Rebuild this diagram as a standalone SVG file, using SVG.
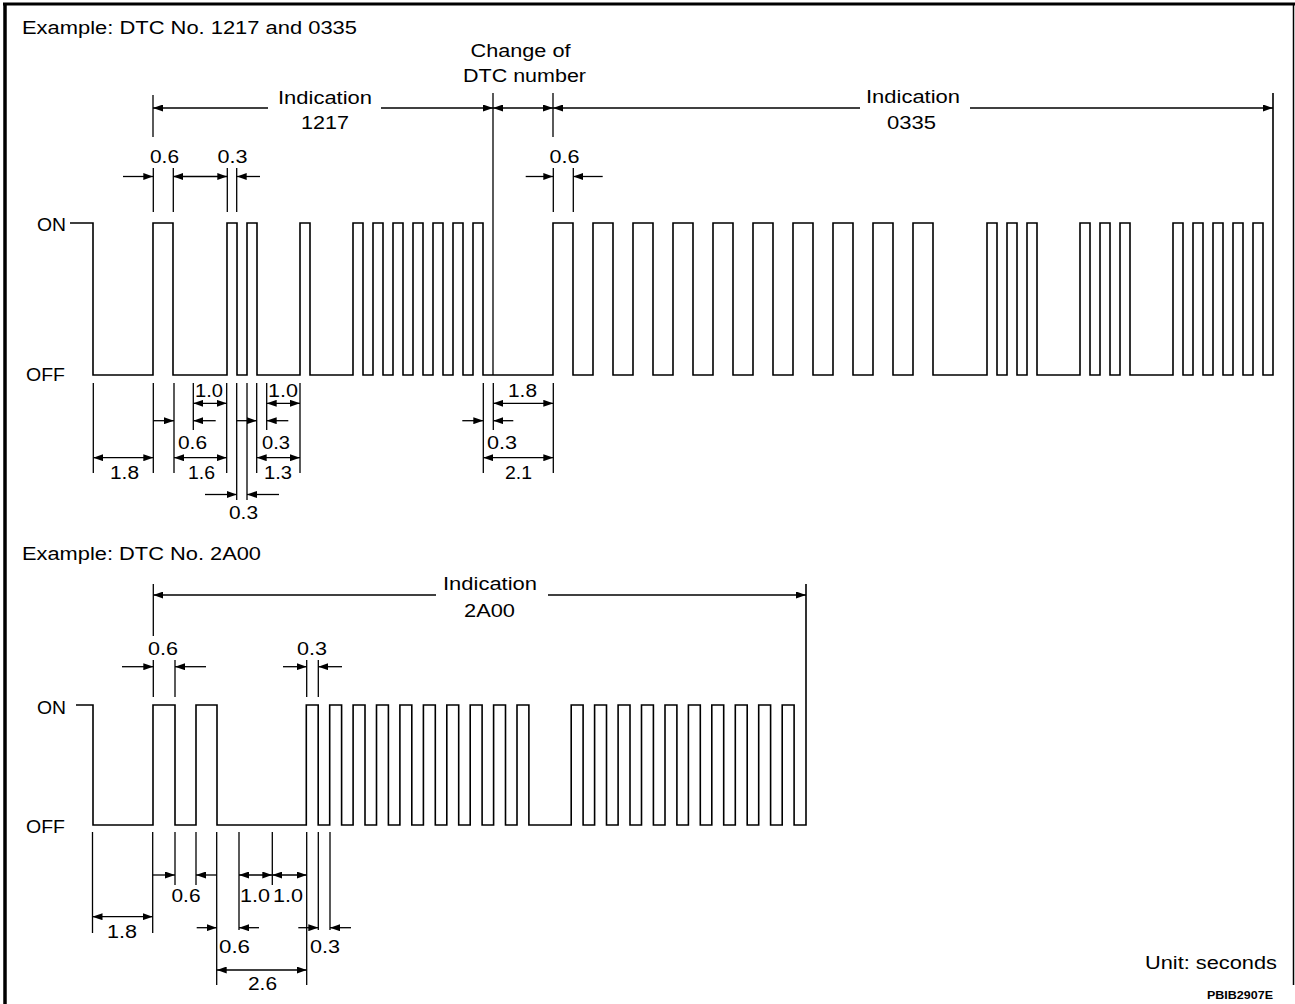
<svg xmlns="http://www.w3.org/2000/svg" width="1295" height="1004" viewBox="0 0 1295 1004">
<defs>
<marker id="ah" viewBox="0 0 10 7" refX="10" refY="3.5" markerWidth="10" markerHeight="7" markerUnits="userSpaceOnUse" orient="auto-start-reverse"><path d="M0,0L10,3.5L0,7z" fill="#000"/></marker>
<style>
text{font-family:"Liberation Sans",Arial,sans-serif;font-size:17.5px;fill:#000}
.w{fill:none;stroke:#000;stroke-width:1.6}
.t{fill:none;stroke:#000;stroke-width:1.3}
.e{fill:none;stroke:#000;stroke-width:1.3;marker-end:url(#ah)}
.b{fill:none;stroke:#000;stroke-width:1.3;marker-start:url(#ah);marker-end:url(#ah)}
.s{fill:none;stroke:#000;stroke-width:1.3;marker-start:url(#ah)}
.fr{fill:none;stroke:#000}
</style>
</defs>
<rect width="1295" height="1004" fill="#fff"/>
<g id="frame">
<line class="fr" x1="3" y1="4" x2="1295" y2="4" stroke-width="3"/>
<line class="fr" x1="5" y1="3" x2="5" y2="1004" stroke-width="3.5"/>
<line class="fr" x1="1293.5" y1="3" x2="1293.5" y2="985" stroke-width="1.5"/>
</g>
<g id="top-waveform">
<path class="w" d="M70,223 H93 V375 H153 V223 H173 V375 H227 V223 H237 V375 H247 V223 H257 V375 H300 V223 H310 V375 H353 V223 H363 V375 H373 V223 H383 V375 H393 V223 H403 V375 H413 V223 H423 V375 H433 V223 H443 V375 H453 V223 H463 V375 H473 V223 H483 V375 H553 V223 H573 V375 H593 V223 H613 V375 H633 V223 H653 V375 H673 V223 H693 V375 H713 V223 H733 V375 H753 V223 H773 V375 H793 V223 H813 V375 H833 V223 H853 V375 H873 V223 H893 V375 H913 V223 H933 V375 H987 V223 H997 V375 H1007 V223 H1017 V375 H1027 V223 H1037 V375 H1080 V223 H1090 V375 H1100 V223 H1110 V375 H1120 V223 H1130 V375 H1173 V223 H1183 V375 H1193 V223 H1203 V375 H1213 V223 H1223 V375 H1233 V223 H1243 V375 H1253 V223 H1263 V375 H1273 V93"/>
</g>
<g id="bottom-waveform">
<path class="w" d="M76,705 H93 V825 H153 V705 H175 V825 H196 V705 H217 V825 H306.3 V705 H318.2 V825 H329.7 V705 H341.6 V825 H353.1 V705 H365 V825 H376.5 V705 H388.4 V825 H399.9 V705 H411.8 V825 H423.4 V705 H435.3 V825 H446.8 V705 H458.7 V825 H470.2 V705 H482.1 V825 H493.6 V705 H505.5 V825 H517 V705 H528.9 V825 H571.2 V705 H583.1 V825 H594.6 V705 H606.5 V825 H618.1 V705 H630 V825 H641.5 V705 H653.4 V825 H665 V705 H676.9 V825 H688.4 V705 H700.3 V825 H711.8 V705 H723.7 V825 H735.3 V705 H747.2 V825 H758.7 V705 H770.6 V825 H782.2 V705 H794.1 V825 H806 V584"/>
</g>
<g id="connectors">
<line class="t" x1="153" y1="95" x2="153" y2="137"/>
<line class="s" x1="153" y1="108" x2="268" y2="108"/>
<line class="e" x1="381" y1="108" x2="493" y2="108"/>
<line class="t" x1="493" y1="93" x2="493" y2="375"/>
<line class="b" x1="493" y1="108" x2="553" y2="108"/>
<line class="t" x1="553" y1="93" x2="553" y2="137"/>
<line class="s" x1="553" y1="108" x2="860" y2="108"/>
<line class="e" x1="970" y1="108" x2="1273" y2="108"/>
<line class="t" x1="153.3" y1="168" x2="153.3" y2="212"/>
<line class="t" x1="173.3" y1="168" x2="173.3" y2="212"/>
<line class="t" x1="227.3" y1="168" x2="227.3" y2="212"/>
<line class="t" x1="236.7" y1="168" x2="236.7" y2="212"/>
<line class="e" x1="123" y1="176.5" x2="153.3" y2="176.5"/>
<line class="b" x1="173.3" y1="176.5" x2="227.3" y2="176.5"/>
<line class="e" x1="260" y1="176.5" x2="236.7" y2="176.5"/>
<line class="t" x1="553.3" y1="168" x2="553.3" y2="212"/>
<line class="t" x1="573.3" y1="168" x2="573.3" y2="212"/>
<line class="e" x1="525.7" y1="176.5" x2="553.3" y2="176.5"/>
<line class="e" x1="602.7" y1="176.5" x2="573.3" y2="176.5"/>
<line class="t" x1="93.3" y1="383" x2="93.3" y2="473"/>
<line class="t" x1="153.3" y1="383" x2="153.3" y2="473"/>
<line class="t" x1="174" y1="383" x2="174" y2="473"/>
<line class="t" x1="193.3" y1="383" x2="193.3" y2="430"/>
<line class="t" x1="226.7" y1="383" x2="226.7" y2="473"/>
<line class="t" x1="236.7" y1="383" x2="236.7" y2="500"/>
<line class="t" x1="247" y1="383" x2="247" y2="500"/>
<line class="t" x1="256.7" y1="383" x2="256.7" y2="473"/>
<line class="t" x1="266.7" y1="383" x2="266.7" y2="430"/>
<line class="t" x1="300" y1="383" x2="300" y2="473"/>
<line class="b" x1="193.3" y1="403.3" x2="226.7" y2="403.3"/>
<line class="b" x1="266.7" y1="403.3" x2="300" y2="403.3"/>
<line class="e" x1="153.3" y1="420.7" x2="174" y2="420.7"/>
<line class="e" x1="215.7" y1="420.7" x2="193.3" y2="420.7"/>
<line class="e" x1="236.7" y1="420.7" x2="256.7" y2="420.7"/>
<line class="e" x1="288.3" y1="420.7" x2="266.7" y2="420.7"/>
<line class="b" x1="93.3" y1="457.7" x2="153.3" y2="457.7"/>
<line class="b" x1="174" y1="457.7" x2="226.7" y2="457.7"/>
<line class="b" x1="256.7" y1="457.7" x2="300" y2="457.7"/>
<line class="e" x1="205" y1="494.5" x2="236.7" y2="494.5"/>
<line class="e" x1="279" y1="494.5" x2="247" y2="494.5"/>
<line class="t" x1="483.3" y1="383" x2="483.3" y2="473"/>
<line class="t" x1="493.3" y1="383" x2="493.3" y2="430"/>
<line class="t" x1="553.3" y1="383" x2="553.3" y2="473"/>
<line class="b" x1="493.3" y1="403.3" x2="553.3" y2="403.3"/>
<line class="e" x1="462.3" y1="420.7" x2="483.3" y2="420.7"/>
<line class="e" x1="513.3" y1="420.7" x2="493.3" y2="420.7"/>
<line class="b" x1="483.3" y1="457.7" x2="553.3" y2="457.7"/>
<line class="t" x1="153.3" y1="584" x2="153.3" y2="636"/>
<line class="s" x1="153.3" y1="595" x2="436" y2="595"/>
<line class="e" x1="548" y1="595" x2="806" y2="595"/>
<line class="t" x1="153.3" y1="660" x2="153.3" y2="697"/>
<line class="t" x1="175" y1="660" x2="175" y2="697"/>
<line class="e" x1="122" y1="666.7" x2="153.3" y2="666.7"/>
<line class="e" x1="206" y1="666.7" x2="175" y2="666.7"/>
<line class="t" x1="306.7" y1="660" x2="306.7" y2="697"/>
<line class="t" x1="318.3" y1="660" x2="318.3" y2="697"/>
<line class="e" x1="283" y1="666.7" x2="306.7" y2="666.7"/>
<line class="e" x1="342" y1="666.7" x2="318.3" y2="666.7"/>
<line class="t" x1="92.5" y1="832" x2="92.5" y2="933"/>
<line class="t" x1="152.7" y1="832" x2="152.7" y2="933"/>
<line class="t" x1="175" y1="832" x2="175" y2="885"/>
<line class="t" x1="196" y1="832" x2="196" y2="885"/>
<line class="t" x1="216.7" y1="832" x2="216.7" y2="985"/>
<line class="t" x1="239" y1="832" x2="239" y2="930"/>
<line class="t" x1="272.3" y1="832" x2="272.3" y2="885"/>
<line class="t" x1="306.7" y1="832" x2="306.7" y2="985"/>
<line class="t" x1="318.3" y1="832" x2="318.3" y2="930"/>
<line class="t" x1="330" y1="832" x2="330" y2="930"/>
<line class="b" x1="92.5" y1="916.7" x2="152.7" y2="916.7"/>
<line class="e" x1="152.7" y1="875" x2="175" y2="875"/>
<line class="e" x1="216.7" y1="875" x2="196" y2="875"/>
<line class="b" x1="239" y1="875" x2="272.3" y2="875"/>
<line class="b" x1="272.3" y1="875" x2="306.7" y2="875"/>
<line class="e" x1="196.7" y1="927.7" x2="216.7" y2="927.7"/>
<line class="e" x1="259" y1="927.7" x2="239" y2="927.7"/>
<line class="e" x1="298.3" y1="927.7" x2="318.3" y2="927.7"/>
<line class="e" x1="351" y1="927.7" x2="330" y2="927.7"/>
<line class="b" x1="216.7" y1="970" x2="306.7" y2="970"/>
</g>
<g id="labels">
<text x="22" y="34" textLength="335" lengthAdjust="spacingAndGlyphs">Example: DTC No. 1217 and 0335</text>
<text x="470.5" y="57" textLength="100" lengthAdjust="spacingAndGlyphs">Change of</text>
<text x="463" y="82" textLength="123" lengthAdjust="spacingAndGlyphs">DTC number</text>
<text x="278" y="103.5" textLength="94" lengthAdjust="spacingAndGlyphs">Indication</text>
<text x="301" y="128.5" textLength="48" lengthAdjust="spacingAndGlyphs">1217</text>
<text x="866" y="103" textLength="94" lengthAdjust="spacingAndGlyphs">Indication</text>
<text x="887" y="128.5" textLength="49" lengthAdjust="spacingAndGlyphs">0335</text>
<text x="150" y="162.5" textLength="29" lengthAdjust="spacingAndGlyphs">0.6</text>
<text x="217.5" y="162.5" textLength="30" lengthAdjust="spacingAndGlyphs">0.3</text>
<text x="549.5" y="163" textLength="30" lengthAdjust="spacingAndGlyphs">0.6</text>
<text x="37" y="231" textLength="29" lengthAdjust="spacingAndGlyphs">ON</text>
<text x="26" y="381" textLength="39" lengthAdjust="spacingAndGlyphs">OFF</text>
<text x="195" y="397" textLength="28" lengthAdjust="spacingAndGlyphs">1.0</text>
<text x="268" y="397" textLength="30" lengthAdjust="spacingAndGlyphs">1.0</text>
<text x="508" y="397" textLength="29" lengthAdjust="spacingAndGlyphs">1.8</text>
<text x="178" y="448.5" textLength="29" lengthAdjust="spacingAndGlyphs">0.6</text>
<text x="262" y="448.5" textLength="28" lengthAdjust="spacingAndGlyphs">0.3</text>
<text x="487" y="448.5" textLength="30" lengthAdjust="spacingAndGlyphs">0.3</text>
<text x="110" y="478.5" textLength="29" lengthAdjust="spacingAndGlyphs">1.8</text>
<text x="188" y="478.5" textLength="27" lengthAdjust="spacingAndGlyphs">1.6</text>
<text x="264" y="478.5" textLength="28" lengthAdjust="spacingAndGlyphs">1.3</text>
<text x="505" y="478.5" textLength="27" lengthAdjust="spacingAndGlyphs">2.1</text>
<text x="229" y="519" textLength="29" lengthAdjust="spacingAndGlyphs">0.3</text>
<text x="22" y="560" textLength="239" lengthAdjust="spacingAndGlyphs">Example: DTC No. 2A00</text>
<text x="443" y="590" textLength="94" lengthAdjust="spacingAndGlyphs">Indication</text>
<text x="464" y="617" textLength="51" lengthAdjust="spacingAndGlyphs">2A00</text>
<text x="148" y="655" textLength="30" lengthAdjust="spacingAndGlyphs">0.6</text>
<text x="297" y="655" textLength="30" lengthAdjust="spacingAndGlyphs">0.3</text>
<text x="37" y="713.5" textLength="29" lengthAdjust="spacingAndGlyphs">ON</text>
<text x="26" y="833" textLength="39" lengthAdjust="spacingAndGlyphs">OFF</text>
<text x="171.5" y="901.5" textLength="29" lengthAdjust="spacingAndGlyphs">0.6</text>
<text x="240" y="901.5" textLength="30" lengthAdjust="spacingAndGlyphs">1.0</text>
<text x="273" y="901.5" textLength="30" lengthAdjust="spacingAndGlyphs">1.0</text>
<text x="107" y="937.5" textLength="30" lengthAdjust="spacingAndGlyphs">1.8</text>
<text x="219" y="952.5" textLength="31" lengthAdjust="spacingAndGlyphs">0.6</text>
<text x="310" y="952.5" textLength="30" lengthAdjust="spacingAndGlyphs">0.3</text>
<text x="248" y="990" textLength="29" lengthAdjust="spacingAndGlyphs">2.6</text>
<text x="1145" y="968.5" textLength="132" lengthAdjust="spacingAndGlyphs">Unit: seconds</text>
<text x="1207" y="998.5" textLength="66" lengthAdjust="spacingAndGlyphs" style="font-size:11.5px;font-weight:bold">PBIB2907E</text>
</g>
</svg>
